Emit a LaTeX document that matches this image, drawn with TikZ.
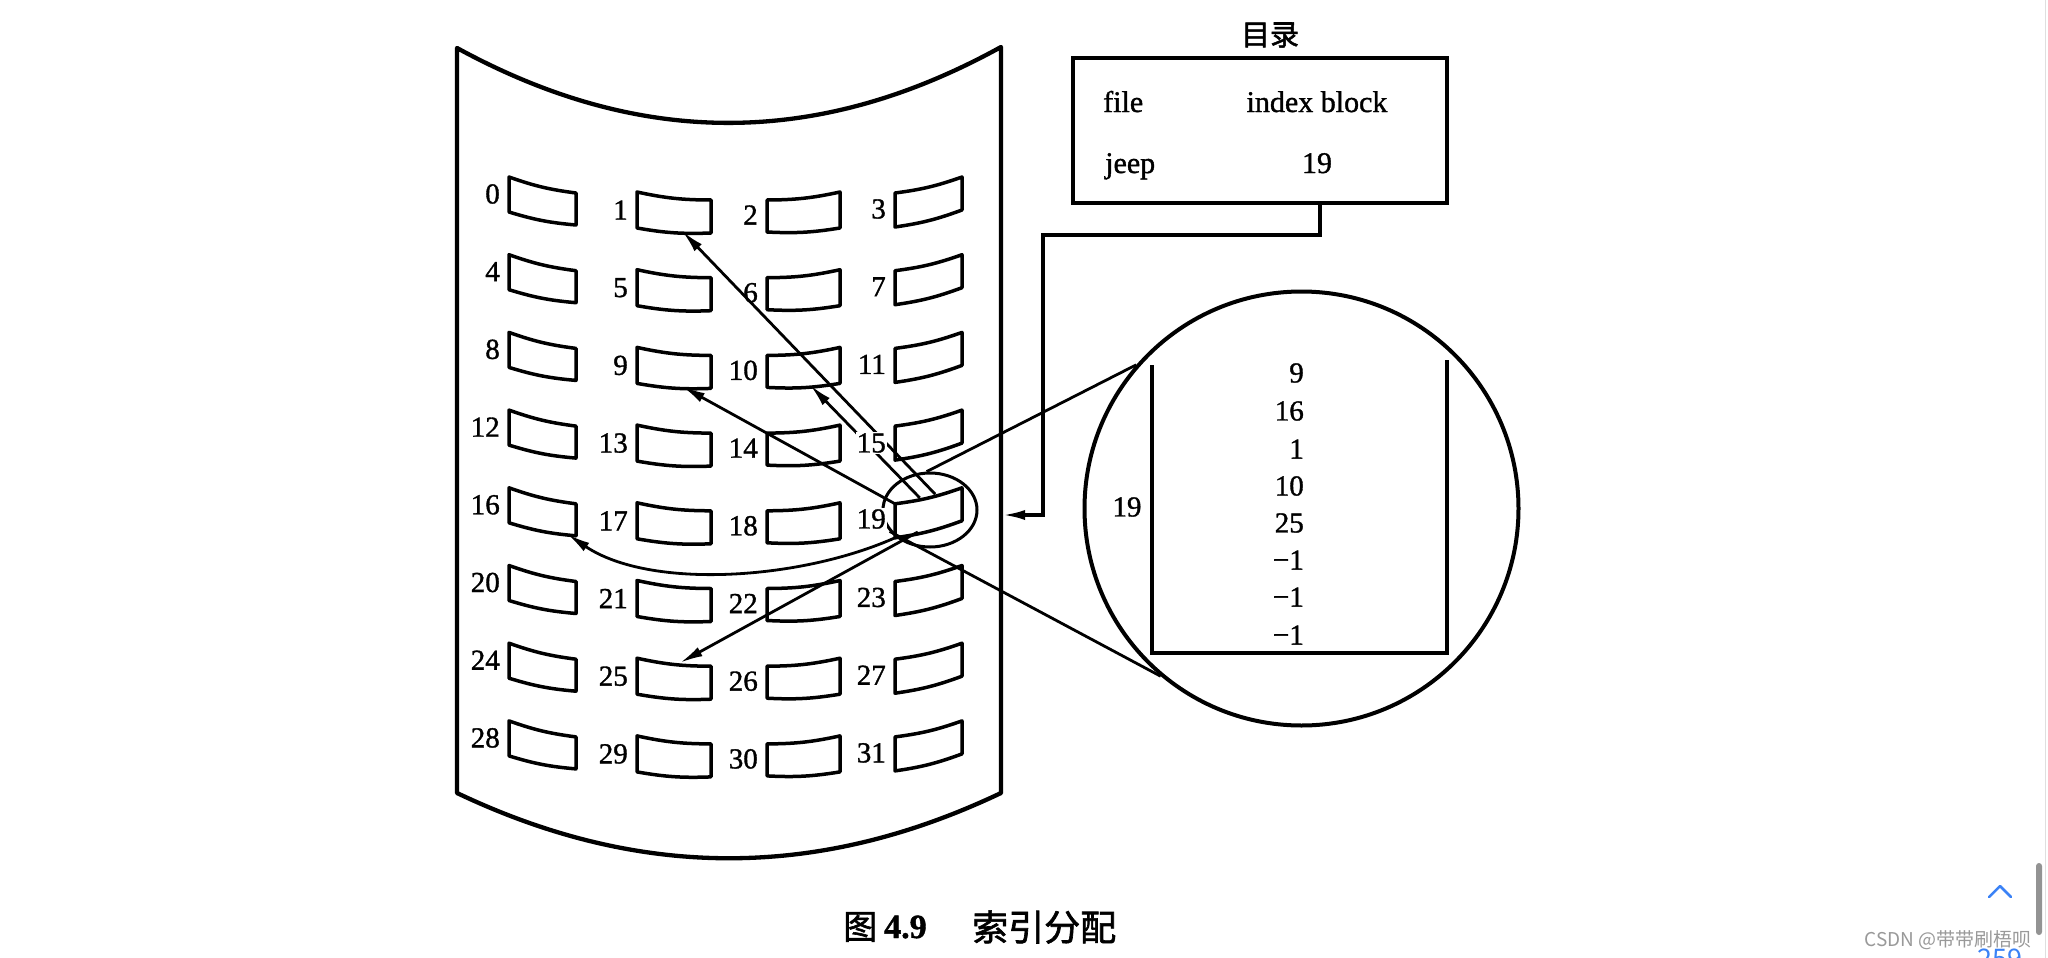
\documentclass[tikz,border=0pt]{standalone}
\usepackage{fontspec}
\setmainfont{Liberation Serif}[FakeBold=1.2]
\newfontfamily\cjk{Noto Sans CJK SC}
\newfontfamily\cjkb{Noto Sans CJK SC}[FakeBold=1.8]
\usetikzlibrary{arrows.meta,shapes.geometric,calc}
\definecolor{uiblue}{HTML}{3B82F6}
\tikzset{
  outl/.style={line width=4.3pt, line join=round},
  blkline/.style={line width=3.5pt, line join=round},
  arr/.style={line width=2.8pt, -{Latex[length=23pt,width=10pt]}},
  thinl/.style={line width=2.8pt},
  num/.style={font=\fontsize{29}{30}\selectfont, inner sep=1pt},
  boxtxt/.style={font=\fontsize{30}{32}\selectfont, inner sep=0pt},
}
\begin{document}
\begin{tikzpicture}[x=1pt,y=-1pt]
\useasboundingbox (0,0) rectangle (2048,958);
\clip (0,0) rectangle (2048,958);
\fill[white] (0,0) rectangle (2048,958);

% drum
\coordinate (dTL) at (457,48);
\coordinate (dTR) at (1001,47);
\coordinate (dBR) at (1001,793);
\coordinate (dBL) at (457,793);
\draw[outl, fill=white] (dTL) .. controls (640,148) and (818,148) .. (dTR) -- (dBR) .. controls (818,880) and (640,880) .. (dBL) -- cycle;

% blocks
\foreach \r in {0,...,7}{
  \foreach \c/\xa/\xb/\ta/\tb/\ba/\bb/\lo in {0/509/576/0/16/35/48/17, 1/637/711/15/23/51/56/33, 2/767/840/23/15/55/51/38, 3/895/962/16/0/50/33/32}{
    \pgfmathsetmacro\yb{177+77.7*\r}
    \pgfmathtruncatemacro\n{4*\r+\c}
    \coordinate (b\n-tl) at (\xa,\yb+\ta);
    \coordinate (b\n-tr) at (\xb,\yb+\tb);
    \coordinate (b\n-br) at (\xb,\yb+\bb);
    \coordinate (b\n-bl) at (\xa,\yb+\ba);
    \draw[blkline, fill=white] (b\n-tl) to[bend right=6] (b\n-tr) -- (b\n-br) to[bend left=6] (b\n-bl) -- cycle;
    \ifnum\n=15 \else \ifnum\n=19 \else
      \node[num, anchor=east] (l\n) at (\xa-8,\yb+\lo) {\n};
    \fi\fi
  }
}

% small ellipse around block 19
\node[draw, ellipse, line width=3pt, minimum width=94pt, minimum height=74pt, inner sep=0pt] (E) at (930,510) {};

% arrows from block 19
\draw[arr] (b19-tl) -- ($(b9-bl)!0.61!(b9-br)$);
\draw[arr] ($(b19-tl)!0.37!(b19-tr)$) -- ($(b10-bl)!0.59!(b10-br)$);
\draw[arr] ($(b19-tl)!0.6!(b19-tr)$) -- ($(b1-bl)!0.61!(b1-br)$);
\draw[arr] ($(b19-bl)!0.34!(b19-br)$) -- ($(b25-tl)!0.58!(b25-tr)$);
\draw[arr] (b19-bl) .. controls (800,580) and (650,590) .. ($(b16-bl)!0.87!(b16-br)$);

% labels 15 and 19 over the lines
\node[num, anchor=east, fill=white] (l15) at (887,443) {15};
\node[num, anchor=east, fill=white] (l19) at (887,519) {19};

% magnified circle
\node[draw, circle, line width=4pt, minimum size=434pt, inner sep=0pt] (C) at (1301.5,508.5) {};
\draw[thinl] (E.95) -- (C.139.5);
\draw[thinl] (E.208) -- (C.230.2);

% index block contents
\coordinate (q1) at (1152,365);
\coordinate (q2) at (1152,653);
\coordinate (q3) at (1447,653);
\coordinate (q4) at (1447,360);
\draw[line width=4.3pt, line join=miter] (q1) -- (q2) -- (q3) -- (q4);
\node[num, anchor=east] (n1) at (1305,373) {9};
\node[num, anchor=east] (n2) at (1305,411) {16};
\node[num, anchor=east] (n3) at (1305,449) {1};
\node[num, anchor=east] (n4) at (1305,486) {10};
\node[num, anchor=east] (n5) at (1305,523) {25};
\node[num, anchor=east] (n6) at (1305,560) {−1};
\node[num, anchor=east] (n7) at (1305,597) {−1};
\node[num, anchor=east] (n8) at (1305,635) {−1};
\node[num] (ib) at (1127,507) {19};

% directory box
\node[font=\fontsize{29}{30}\selectfont\cjkb, inner sep=0pt] (title) at (1270,35) {目录};
\node[draw, line width=4pt, minimum width=374pt, minimum height=145pt, inner sep=0pt] (dir) at (1260,130.5) {};
\node[boxtxt, anchor=base west] (t1) at (1103,112) {file};
\node[boxtxt, anchor=base] (t2) at (1317,112) {index block};
\node[boxtxt, anchor=base west] (t3) at (1105,173) {jeep};
\node[boxtxt, anchor=base] (t4) at (1317,173) {19};

% connector from directory to disk
\coordinate (k0) at ($(dir.south)+(60,0)$);
\coordinate (k1) at (1043,515);
\coordinate (kE) at (1002,515);
\draw[arr, line width=3.4pt] (k0) -- ++(0,30) -| (k1) -- (kE);

% caption
\node[anchor=west, inner sep=0pt, font=\fontsize{34}{36}\selectfont\cjkb] (capA) at (843,927) {图};
\node[anchor=west, inner sep=0pt, font=\fontsize{34}{36}\selectfont\bfseries] (capB) at (884,927) {4.9};
\node[anchor=west, inner sep=0pt, font=\fontsize{36}{38}\selectfont\cjkb] (capC) at (972,927) {索引分配};

% page UI / watermark
\draw[gray!25, line width=1pt] (2045,0) -- (2045,958);
\fill[gray!85, rounded corners=3pt] (2036,863) rectangle (2042,935);
\draw[uiblue, line width=2.5pt, line cap=round, line join=round] (1989,897) -- (2000,886) -- (2011,897);
\node[anchor=east, inner sep=0pt, text=gray!80, font=\fontsize{19}{20}\selectfont\cjk] (wm) at (2032,940) {CSDN @带带刷梧呗};
\node[anchor=base, inner sep=0pt, text=uiblue, font=\fontsize{27}{28}\selectfont\cjk] (pg) at (2000,968) {259};
\end{tikzpicture}
\end{document}
